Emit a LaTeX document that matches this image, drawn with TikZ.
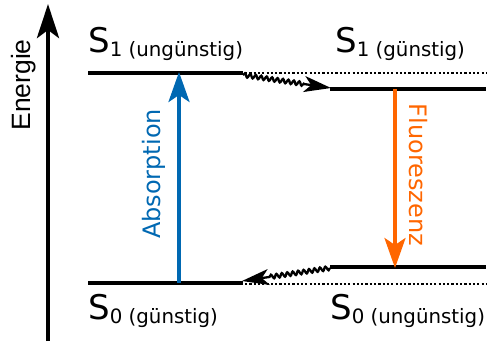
\documentclass[tikz,border=0pt]{standalone}
\usepackage{fontspec}
\setmainfont{DejaVu Sans}
\newfontfamily\arialfont{Liberation Sans}
\usetikzlibrary{arrows.meta,decorations.pathmorphing}
\definecolor{absblue}{RGB}{0,104,178}
\definecolor{fluorange}{RGB}{255,102,0}
\newcommand{\lvltext}[2]{{\fontsize{34}{34}\selectfont S}\raisebox{-4pt}{\fontsize{19.8}{20}\selectfont #1 (#2)}}
\tikzset{
  level/.style={line width=3.8pt},
  dotline/.style={line width=2.4pt, dash pattern=on 2.2pt off 2.1pt},
  wavy/.style={line width=2.3pt, decorate, decoration={snake, amplitude=2pt, segment length=5.5pt, post length=27pt},
    -{Stealth[length=27pt,width=16pt,inset=7pt]}},
  trans/.style={line width=3.6pt, -{Stealth[length=30pt,width=21pt,inset=7pt]}},
  lbl/.style={anchor=base west, inner sep=0pt},
  vlabel/.style={inner sep=0pt, font=\fontsize{24}{24}\selectfont}
}
\begin{document}
\begin{tikzpicture}[x=1pt,y=-1pt]
\useasboundingbox (0,0) rectangle (498,341);
% energy axis
\coordinate (Ebot) at (48,341);
\coordinate (Etop) at (48,4);
\draw[line width=4.6pt, -{Stealth[length=34pt,width=22pt,inset=8pt]}] (Ebot) -- (Etop);
\node[rotate=90, inner sep=0pt, font=\arialfont\fontsize{26.5}{26}\selectfont] (energie) at (24,85) {Energie};
% levels
\coordinate (S1La) at (88,73);
\coordinate (S1Lb) at (243,73);
\coordinate (S1Ra) at (330,89);
\coordinate (S1Rb) at (486,89);
\coordinate (S0La) at (88,283);
\coordinate (S0Lb) at (243,283);
\coordinate (S0Ra) at (330,267);
\coordinate (S0Rb) at (486,267);
\coordinate (D1a) at (245,73);
\coordinate (D1b) at (486,73);
\coordinate (D0a) at (245,284);
\coordinate (D0b) at (486,284);
\draw[dotline] (D1a) -- (D1b);
\draw[dotline] (D0a) -- (D0b);
\draw[level] (S1La) -- (S1Lb);
\draw[level] (S1Ra) -- (S1Rb);
\draw[level] (S0La) -- (S0Lb);
\draw[level] (S0Ra) -- (S0Rb);
% labels
\node[lbl] (l1) at (88,52) {\lvltext{1}{ungünstig}};
\node[lbl] (l2) at (335,52) {\lvltext{1}{günstig}};
\node[lbl] (l3) at (88,319) {\lvltext{0}{günstig}};
\node[lbl] (l4) at (330,319) {\lvltext{0}{ungünstig}};
% wavy relaxations
\coordinate (w1a) at (243,75);
\coordinate (w1b) at (331,88);
\coordinate (w2a) at (330,268);
\coordinate (w2b) at (242,281);
\draw[wavy] (w1a) -- (w1b);
\draw[wavy] (w2a) -- (w2b);
% absorption
\coordinate (Aa) at (179,283);
\coordinate (Ab) at (179,72);
\draw[trans, absblue] (Aa) -- (Ab);
\node[vlabel, rotate=90, text=absblue] (abs) at (154,174) {Absorption};
% fluorescence
\coordinate (Fa) at (395,89);
\coordinate (Fb) at (395,268);
\draw[trans, fluorange] (Fa) -- (Fb);
\node[vlabel, rotate=-90, text=fluorange] (flu) at (418,175) {Fluoreszenz};
\end{tikzpicture}
\end{document}
